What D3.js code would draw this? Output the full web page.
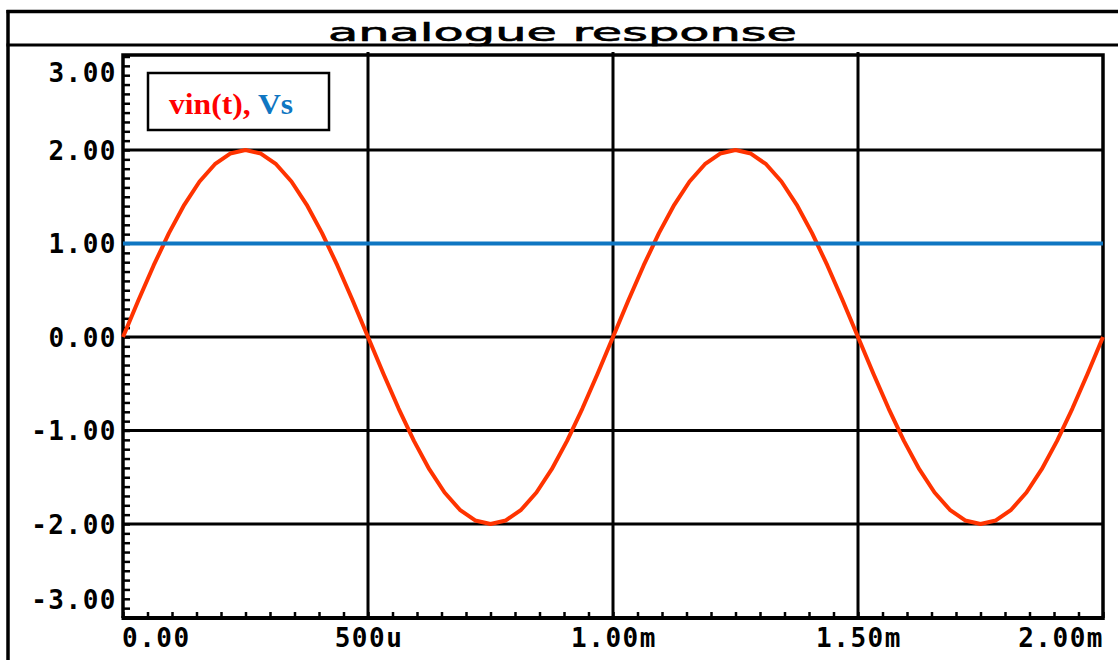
<!DOCTYPE html>
<html>
<head>
<meta charset="utf-8">
<script src="https://cdn.jsdelivr.net/npm/d3@7"></script>
<style>
html,body{margin:0;padding:0;background:#fff;}
svg{display:block;}
</style>
</head>
<body>
<svg id="chart" width="1118" height="660"></svg>
<script>
// ---- data ----
const title = "analogue response";
const legendNames = ["vin(t), ", "Vs"];
// time in microseconds
const vinTime = [0, 31.25, 62.5, 93.75, 125, 156.25, 187.5, 218.75, 250, 281.25, 312.5, 343.75, 375, 406.25, 437.5, 468.75,
  500, 531.25, 562.5, 593.75, 625, 656.25, 687.5, 718.75, 750, 781.25, 812.5, 843.75, 875, 906.25, 937.5, 968.75,
  1000, 1031.25, 1062.5, 1093.75, 1125, 1156.25, 1187.5, 1218.75, 1250, 1281.25, 1312.5, 1343.75, 1375, 1406.25, 1437.5, 1468.75,
  1500, 1531.25, 1562.5, 1593.75, 1625, 1656.25, 1687.5, 1718.75, 1750, 1781.25, 1812.5, 1843.75, 1875, 1906.25, 1937.5, 1968.75, 2000];
const vinValues = [0, 0.39, 0.765, 1.111, 1.414, 1.663, 1.848, 1.962, 2, 1.962, 1.848, 1.663, 1.414, 1.111, 0.765, 0.39,
  0, -0.39, -0.765, -1.111, -1.414, -1.663, -1.848, -1.962, -2, -1.962, -1.848, -1.663, -1.414, -1.111, -0.765, -0.39,
  0, 0.39, 0.765, 1.111, 1.414, 1.663, 1.848, 1.962, 2, 1.962, 1.848, 1.663, 1.414, 1.111, 0.765, 0.39,
  0, -0.39, -0.765, -1.111, -1.414, -1.663, -1.848, -1.962, -2, -1.962, -1.848, -1.663, -1.414, -1.111, -0.765, -0.39, 0];
const vsTime = [0, 2000];
const vsValues = [1, 1];
const yTickValues = [3, 2, 1, 0, -1, -2, -3];
const yTickLabels = ["3.00", "2.00", "1.00", "0.00", "-1.00", "-2.00", "-3.00"];
const xTickValues = [0, 500, 1000, 1500, 2000];
const xTickLabels = ["0.00", "500u", "1.00m", "1.50m", "2.00m"];

// ---- layout ----
const X0 = 123, X1 = 1103, YT = 55, YB = 618;
const RED = "#ff3300", BLUE = "#0f76c2", LRED = "#ff0000";
const svg = d3.select("#chart");

const x = d3.scaleLinear().domain([0, 2000]).range([X0, X1]);
const y = d3.scaleLinear().domain([-3, 3]).range([617.5, 56.5]);

// outer frame
svg.append("line").attr("x1", 8).attr("x2", 8).attr("y1", 10).attr("y2", 660).attr("stroke", "#000").attr("stroke-width", 3.5);
svg.append("line").attr("x1", 6.5).attr("x2", 1118).attr("y1", 11.5).attr("y2", 11.5).attr("stroke", "#000").attr("stroke-width", 3.5);
svg.append("line").attr("x1", 6.5).attr("x2", 1118).attr("y1", 45).attr("y2", 45).attr("stroke", "#000").attr("stroke-width", 3);

// title
svg.append("text").attr("x", 328).attr("y", 41)
  .attr("textLength", 469).attr("lengthAdjust", "spacingAndGlyphs")
  .attr("font-family", "DejaVu Sans").attr("font-size", 25)
  .attr("fill", "#000").attr("stroke", "#000").attr("stroke-width", 0.6)
  .text(title);

// gridlines
const gx = d3.range(1, 4).map(i => xTickValues[i]);
svg.append("g").selectAll("line").data(gx).join("line")
  .attr("x1", d => x(d)).attr("x2", d => x(d)).attr("y1", 52).attr("y2", YB)
  .attr("stroke", "#000").attr("stroke-width", 3);
const gy = yTickValues.filter(v => Math.abs(v) < 3);
svg.append("g").selectAll("line").data(gy).join("line")
  .attr("x1", X0).attr("x2", X1).attr("y1", d => y(d)).attr("y2", d => y(d))
  .attr("stroke", "#000").attr("stroke-width", 3);

// minor ticks via d3 axes
const yMinor = d3.range(-30, 31).map(v => v / 10);
const yAxis = d3.axisRight(y).tickValues(yMinor).tickSize(7).tickFormat("");
const ya = svg.append("g").attr("transform", `translate(${X0},0)`).call(yAxis);
ya.select(".domain").remove();
ya.selectAll("line").attr("stroke", "#000").attr("stroke-width", 2.5);

const xMinor = d3.range(0, 41).map(v => v * 50);
const xAxis = d3.axisTop(x).tickValues(xMinor).tickSize(6).tickFormat("");
const xa = svg.append("g").attr("transform", `translate(0,${YB})`).call(xAxis);
xa.select(".domain").remove();
xa.selectAll("line").attr("stroke", "#000").attr("stroke-width", 2.5);

// plot frame
svg.append("path")
  .attr("d", `M${X0},${YB}L${X0},${YT}L${X1},${YT}L${X1},${YB + 2}`)
  .attr("fill", "none").attr("stroke", "#000").attr("stroke-width", 3.5);
svg.append("line").attr("x1", X0 - 1.5).attr("x2", X1 - 1).attr("y1", YB).attr("y2", YB)
  .attr("stroke", "#000").attr("stroke-width", 4);

// tick labels
const tickFont = "DejaVu Sans Mono";
svg.append("g").selectAll("text").data(yTickValues).join("text")
  .attr("x", 117)
  .attr("y", (d, i) => {
    if (i === 0) return y(d) + 25.5;
    if (i === yTickValues.length - 1) return y(d) - 8.5;
    return y(d) + 9.5;
  })
  .attr("text-anchor", "end")
  .attr("font-family", tickFont).attr("font-weight", "bold").attr("font-size", 26).attr("letter-spacing", 1.5)
  .attr("fill", "#000")
  .text((d, i) => yTickLabels[i]);

svg.append("g").selectAll("text").data(xTickValues).join("text")
  .attr("x", (d, i) => i === 0 ? x(d) - 1 : (i === xTickValues.length - 1 ? x(d) + 1 : x(d) + 1))
  .attr("y", 647)
  .attr("text-anchor", (d, i) => i === 0 ? "start" : (i === xTickValues.length - 1 ? "end" : "middle"))
  .attr("font-family", tickFont).attr("font-weight", "bold").attr("font-size", 26).attr("letter-spacing", 1.5)
  .attr("fill", "#000")
  .text((d, i) => xTickLabels[i]);

// series
const vinData = vinTime.map((t, i) => [t, vinValues[i]]);
const vsData = vsTime.map((t, i) => [t, vsValues[i]]);
const line = d3.line().x(d => x(d[0])).y(d => y(d[1]));
svg.append("path").datum(vinData).attr("d", line)
  .attr("fill", "none").attr("stroke", RED).attr("stroke-width", 4).attr("stroke-linejoin", "round");
svg.append("path").datum(vsData).attr("d", line)
  .attr("fill", "none").attr("stroke", BLUE).attr("stroke-width", 4);

// legend
svg.append("rect").attr("x", 148).attr("y", 73).attr("width", 181).attr("height", 57)
  .attr("fill", "#fff").attr("stroke", "#000").attr("stroke-width", 2.5);
const lt = svg.append("text").attr("x", 169).attr("y", 114)
  .attr("font-family", "Liberation Serif").attr("font-weight", "bold").attr("font-size", 30)
  .attr("textLength", 124).attr("lengthAdjust", "spacingAndGlyphs");
lt.append("tspan").attr("fill", LRED).text(legendNames[0]);
lt.append("tspan").attr("fill", BLUE).text(legendNames[1]);
</script>
</body>
</html>
